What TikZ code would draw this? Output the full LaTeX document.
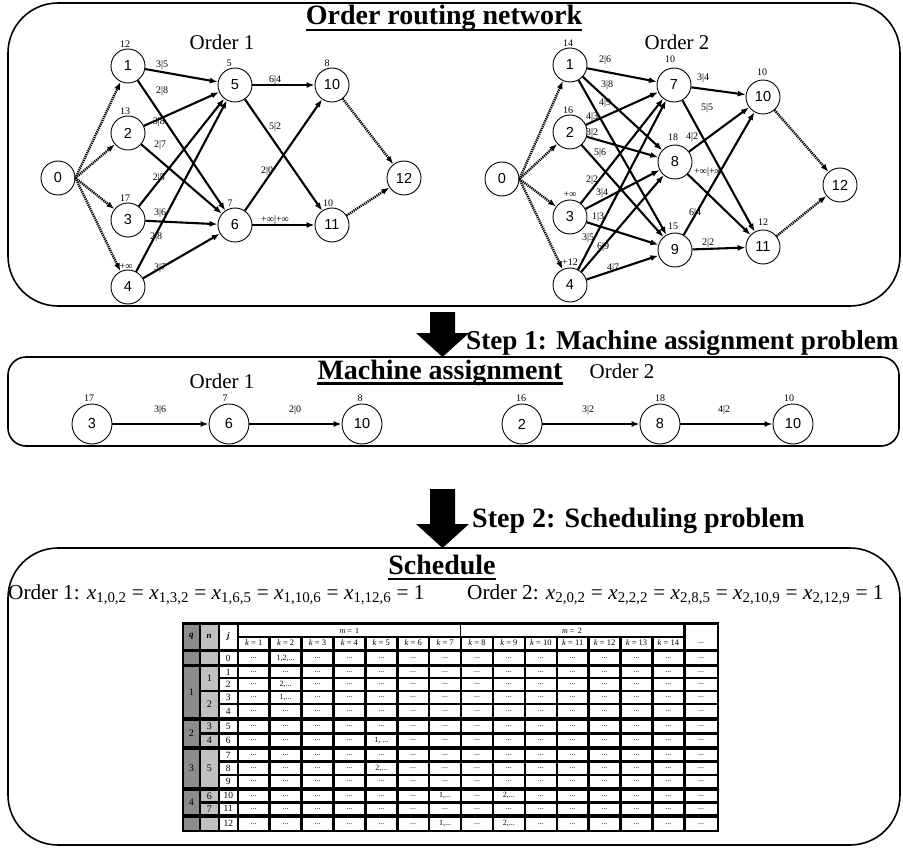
\documentclass[tikz,border=0pt]{standalone}
\usepackage{fontspec}
\setmainfont{Liberation Serif}
\newfontfamily\arialf{Liberation Sans}
\usetikzlibrary{arrows.meta,calc}
\newcommand\fs[1]{\fontsize{#1}{#1}\selectfont}
\newcommand\xv[1]{\textit{x}\textsubscript{#1}}
\expandafter\def\csname cl0-2\endcsname{1,2,...}
\expandafter\def\csname cl2-2\endcsname{2,...}
\expandafter\def\csname cl3-2\endcsname{1,...}
\expandafter\def\csname cl6-5\endcsname{1, ...}
\expandafter\def\csname cl8-5\endcsname{2,...}
\expandafter\def\csname cl10-7\endcsname{1,...}
\expandafter\def\csname cl12-7\endcsname{1,...}
\expandafter\def\csname cl10-9\endcsname{2,...}
\expandafter\def\csname cl12-9\endcsname{2,...}
\definecolor{qgrey}{HTML}{8C8C8C}
\definecolor{ngrey}{HTML}{C0C0C0}
\begin{document}
\begin{tikzpicture}[x=1pt,y=-1pt,
  panel/.style={draw, line width=1.6pt},
  nd/.style={circle, draw, line width=0.9pt, minimum size=34pt, inner sep=0pt, fill=white, font=\arialf\fs{14.5}},
  ndb/.style={nd, minimum size=40pt},
  wt/.style={font=\fs{10}, inner sep=0.5pt},
  el/.style={font=\fs{10}, inner sep=0.5pt},
  arc/.style={line width=2.1pt, -{Latex[length=8pt,width=6pt]}},
  dotarc/.style={line width=2.4pt, dash pattern=on 1.2pt off 0.9pt, -{Latex[length=8pt,width=6pt]}},
  hdr/.style={font=\bfseries\fs{28}, inner sep=0pt},
  ordlbl/.style={font=\fs{21}, inner sep=0pt},
  ctxt/.style={font=\fs{8}, inner sep=0pt},
  jtxt/.style={font=\fs{9.5}, inner sep=0pt},
  ul/.style={line width=2.4pt}
]
\useasboundingbox (0,0) rectangle (903,848);

% ---------------- panels
\draw[panel, rounded corners=50pt] (8,3) rectangle (900,306);
\draw[panel, rounded corners=18pt] (8,357) rectangle (899,446);
\draw[panel, rounded corners=50pt] (8,548) rectangle (900,845);

% ---------------- titles
\node[hdr, anchor=base] (t1) at (444,25) {Order routing network};
\draw[ul] ($(t1.base west)+(0,5)$) -- ($(t1.base east)+(0,5)$);
\node[hdr, anchor=base] (t2) at (440,379) {Machine assignment};
\draw[ul] ($(t2.base west)+(0,4.5)$) -- ($(t2.base east)+(0,4.5)$);
\node[hdr, anchor=base] (t3) at (442,574) {Schedule};
\draw[ul] ($(t3.base west)+(0,5)$) -- ($(t3.base east)+(0,5)$);

% ---------------- step arrows
\fill (430,312) -- (455,312) -- (455,333) -- (469,333) -- (442.5,357) -- (416,333) -- (430,333) -- cycle;
\node[hdr, font=\bfseries\fs{27.2}, anchor=base west] (s1) at (466,349) {Step 1: Machine assignment problem};
\fill (430,489) -- (455,489) -- (455,524) -- (469,524) -- (442.5,548) -- (416,524) -- (430,524) -- cycle;
\node[hdr, anchor=base west] (s2) at (472,527) {Step 2: Scheduling problem};

% ---------------- Order 1 network
\node[ordlbl] (o1) at (222,42) {Order 1};
\node[nd] (a0) at (58,178) {0};
\node[nd] (a1) at (128,66) {1};
\node[nd] (a2) at (128,133) {2};
\node[nd] (a3) at (128,220) {3};
\node[nd] (a4) at (128,287) {4};
\node[nd] (a5) at (235,85) {5};
\node[nd] (a6) at (235,225) {6};
\node[nd] (a10) at (332,85) {10};
\node[nd] (a11) at (332,225) {11};
\node[nd] (a12) at (404,178) {12};
\node[wt] (la1) at (125,44) {12};
\node[wt] (la2) at (125,111) {13};
\node[wt] (la3) at (125,198) {17};
\node[wt] (la4) at (126,267) {+∞};
\node[wt] (la5) at (229,63) {5};
\node[wt] (la6) at (230,203) {7};
\node[wt] (la10) at (327,63) {8};
\node[wt] (la11) at (328,203) {10};
\foreach \t in {1,2,3,4} \draw[dotarc] (a0.east) -- (a\t);
\draw[dotarc] (a10) -- (a12);
\draw[dotarc] (a11) -- (a12);
\foreach \s in {1,2,3,4} {\draw[arc] (a\s) -- (a5); \draw[arc] (a\s) -- (a6);}
\draw[arc] (a5) -- (a10);
\draw[arc] (a5) -- (a11);
\draw[arc] (a6) -- (a10);
\draw[arc] (a6) -- (a11);
\node[el] (ea1) at (162,65) {3|5};
\node[el] (ea2) at (162,91) {2|8};
\node[el] (ea3) at (159,122) {3|8};
\node[el] (ea4) at (160,145) {2|7};
\node[el] (ea5) at (159,178) {2|5};
\node[el] (ea6) at (160,213) {3|6};
\node[el] (ea7) at (156,237) {2|8};
\node[el] (ea8) at (160,268) {3|7};
\node[el] (ea9) at (275,80) {6|4};
\node[el] (ea10) at (275,127) {5|2};
\node[el] (ea11) at (267,171) {2|0};
\node[el] (ea12) at (275,220) {+∞|+∞};

% ---------------- Order 2 network
\node[ordlbl] (o2) at (677,42) {Order 2};
\node[nd] (b0) at (502,179) {0};
\node[nd] (b1) at (570,65) {1};
\node[nd] (b2) at (570,132) {2};
\node[nd] (b3) at (570,217) {3};
\node[nd] (b4) at (570,285) {4};
\node[nd] (b7) at (674,85) {7};
\node[nd] (b8) at (675,162) {8};
\node[nd] (b9) at (675,250) {9};
\node[nd] (b10) at (763,97) {10};
\node[nd] (b11) at (763,247) {11};
\node[nd] (b12) at (840,185) {12};
\node[wt] (lb1) at (568,43) {14};
\node[wt] (lb2) at (568,110) {16};
\node[wt] (lb3) at (570,195) {+∞};
\node[wt] (lb4) at (570,262) {+12};
\node[wt] (lb7) at (670,59) {10};
\node[wt] (lb8) at (673,137) {18};
\node[wt] (lb9) at (673,226) {15};
\node[wt] (lb10) at (762,72) {10};
\node[wt] (lb11) at (763,222) {12};
\foreach \t in {1,2,3,4} \draw[dotarc] (b0.east) -- (b\t);
\draw[dotarc] (b10) -- (b12);
\draw[dotarc] (b11) -- (b12);
\foreach \s in {1,2,3,4} {\draw[arc] (b\s) -- (b7); \draw[arc] (b\s) -- (b8); \draw[arc] (b\s) -- (b9);}
\foreach \s in {7,8,9} {\draw[arc] (b\s) -- (b10); \draw[arc] (b\s) -- (b11);}
\node[el] (eb1) at (605,60) {2|6};
\node[el] (eb2) at (607,85) {3|8};
\node[el] (eb3) at (605,103) {4|9};
\node[el] (eb4) at (592,117) {4|3};
\node[el] (eb5) at (592,133) {3|2};
\node[el] (eb6) at (600,153) {5|6};
\node[el] (eb7) at (592,180) {2|2};
\node[el] (eb8) at (602,193) {3|4};
\node[el] (eb9) at (598,217) {1|3};
\node[el] (eb10) at (588,238) {3|5};
\node[el] (eb11) at (603,247) {6|9};
\node[el] (eb12) at (613,268) {4|7};
\node[el] (eb13) at (703,78) {3|4};
\node[el] (eb14) at (707,108) {5|5};
\node[el] (eb15) at (692,137) {4|2};
\node[el] (eb16) at (708,172) {+∞|+∞};
\node[el] (eb17) at (695,213) {6|4};
\node[el] (eb18) at (708,243) {2|2};

% ---------------- Machine assignment
\node[ordlbl] (m1) at (222,381) {Order 1};
\node[ordlbl] (m2) at (622,371) {Order 2};
\node[ndb] (c3) at (92,424) {3};
\node[ndb] (c6) at (229,424) {6};
\node[ndb] (c10) at (362,424) {10};
\node[ndb] (d2) at (522,424) {2};
\node[ndb] (d8) at (660,424) {8};
\node[ndb] (d10) at (793,424) {10};
\node[wt] (lc3) at (89,398) {17};
\node[wt] (lc6) at (225,398) {7};
\node[wt] (lc10) at (360,398) {8};
\node[wt] (ld2) at (521,398) {16};
\node[wt] (ld8) at (660,398) {18};
\node[wt] (ld10) at (789,398) {10};
\draw[arc] (c3) -- (c6);
\draw[arc] (c6) -- (c10);
\draw[arc] (d2) -- (d8);
\draw[arc] (d8) -- (d10);
\node[el] (ec1) at (160,410) {3|6};
\node[el] (ec2) at (295,410) {2|0};
\node[el] (ed1) at (588,410) {3|2};
\node[el] (ed2) at (724,410) {4|2};

% ---------------- schedule text
\node[font=\fs{21.3}, inner sep=0pt, anchor=base west] (sx1) at (8,599)
  {Order 1: \xv{1,0,2} = \xv{1,3,2} = \xv{1,6,5} = \xv{1,10,6} = \xv{1,12,6} = 1};
\node[font=\fs{21.3}, inner sep=0pt, anchor=base west] (sx2) at (467,599)
  {Order 2: \xv{2,0,2} = \xv{2,2,2} = \xv{2,8,5} = \xv{2,10,9} = \xv{2,12,9} = 1};

% ---------------- table
\fill[black] (181.5,622) rectangle (719,831.5);
% header
\fill[qgrey] (184,625) rectangle (198.5,648.5);
\node[font=\bfseries\itshape\fs{9}, inner sep=0pt] (hq) at (191.25,636.75) {q};
\fill[ngrey] (201,625) rectangle (217.5,648.5);
\node[font=\bfseries\itshape\fs{9}, inner sep=0pt] (hn) at (209.25,636.75) {n};
\fill[white] (220,625) rectangle (236.5,648.5);
\node[font=\bfseries\itshape\fs{9}, inner sep=0pt] (hj) at (228.25,636.75) {j};
\fill[white] (239,625) rectangle (459.8,635.5);
\node[ctxt] (hm1) at (349.4,630.5) {\textit{m} = \,1};
\fill[white] (460.9,625) rectangle (683,635.5);
\node[ctxt] (hm2) at (572,630.5) {\textit{m} = \,2};
\foreach \k in {1,...,14}{
  \pgfmathsetmacro\xl{239+(\k-1)*31.9}
  \fill[white] (\xl,637.5) rectangle (\xl+29.4,648.5);
  \node[ctxt, font=\fs{8.5}] (hk\k) at (\xl+14.7,643) {\textit{k} = \k};
}
\fill[white] (685.5,625) rectangle (716.5,648.5);
\node[ctxt] (hl) at (701,643) {...};
% q groups
\foreach \t/\b/\l [count=\i] in {652/664/{},667/717/1,721/746/2,750/786.5/3,790.5/814/4,818/829.5/{}}{
  \fill[qgrey] (184,\t) rectangle (198.5,\b);
  \node[jtxt, font=\fs{10}] (q\i) at (191.25,{(\t+\b)/2}) {\l};
}
% n groups
\foreach \t/\b/\l [count=\i] in {652/664/{},667/689.5/1,692/717/2,721/732/3,734.5/746/4,750/786.5/5,790.5/801/6,803.5/814/7,818/829.5/{}}{
  \fill[ngrey] (201,\t) rectangle (217.5,\b);
  \node[jtxt, font=\fs{10}] (n\i) at (209.25,{(\t+\b)/2}) {\l};
}
% rows
\foreach \r/\t/\b in {0/652/664,1/667/677,2/679/689.5,3/692/702.5,4/705/717,5/721/732,6/734.5/746,7/750/760,8/762.5/773.5,9/776/786.5,10/790.5/801,11/803.5/814,12/818/829.5}{
  \pgfmathsetmacro\ym{(\t+\b)/2}
  \fill[white] (220,\t) rectangle (236.5,\b);
  \node[jtxt] (j\r) at (228.25,\ym) {\r};
  \foreach \k in {1,...,14}{
    \pgfmathsetmacro\xl{239+(\k-1)*31.9}
    \fill[white] (\xl,\t) rectangle (\xl+29.4,\b);
    \node[ctxt] (c\r-\k) at (\xl+14.7,\ym) {\ifcsname cl\r-\k\endcsname\csname cl\r-\k\endcsname\else...\fi};
  }
  \fill[white] (685.5,\t) rectangle (716.5,\b);
  \node[ctxt] (e\r) at (701,\ym) {...};
}
\end{tikzpicture}
\end{document}
